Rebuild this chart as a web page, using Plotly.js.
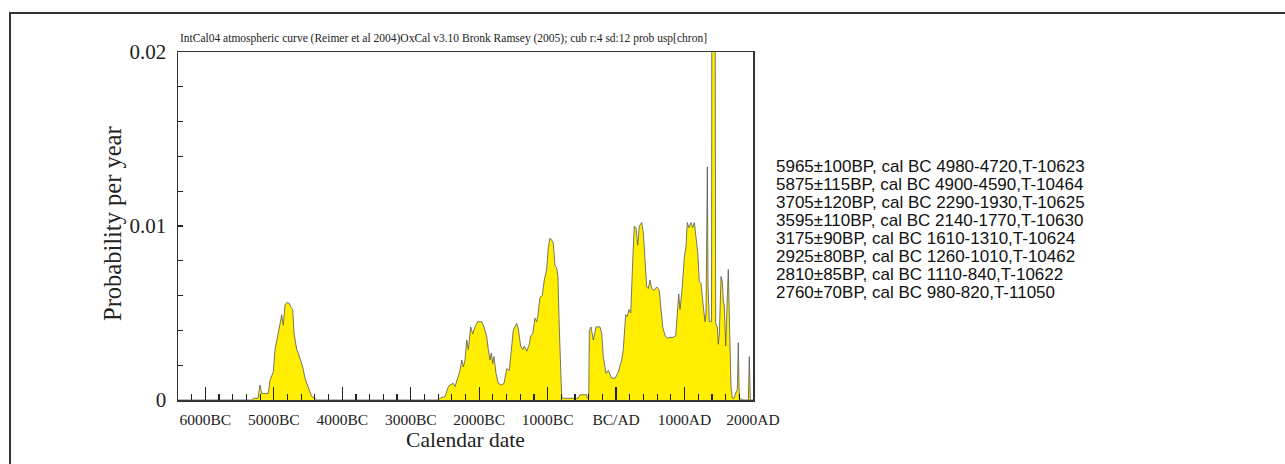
<!DOCTYPE html>
<html>
<head>
<meta charset="utf-8">
<script src="https://cdn.plot.ly/plotly-3.0.1.min.js"></script>
<style>html,body{margin:0;padding:0;background:#fff;}#chart{width:1285px;height:464px;}</style>
</head>
<body>
<div id="chart"></div>
<script>
// Calendar years (negative = BC) and summed probability per year
const years = [
  -6400, -5310,
  -5300, -5231, -5202, -5177, -5081, -5056, -5008, -4983, -4935, -4910, -4885, -4862,
  -4837, -4812, -4774, -4754, -4724, -4705, -4666, -4643, -4618, -4578, -4545, -4496,
  -4472, -4447, -4399, -4374,
  -2600,
  -2572, -2499, -2451, -2426, -2378, -2353, -2320, -2280, -2255, -2232, -2207, -2182,
  -2159, -2124, -2095, -2061, -2022, -1963, -1930, -1890, -1867, -1842, -1823, -1803,
  -1784, -1754, -1721, -1671, -1637, -1598, -1560, -1535, -1502, -1477, -1452, -1429,
  -1394, -1364, -1341, -1306, -1268, -1247, -1218, -1185, -1160, -1145, -1112, -1078,
  -1049, -1014, -990, -966, -941, -917, -892, -868, -850, -830, -795, -771,
  -556, -527, -429, -421, -400,
  -391, -367, -333, -293, -235, -210, -187, -147, -114, -64, -16, 32, 82, 105, 140,
  164, 189, 214, 243, 266, 291, 316, 339, 374, 398, 422, 447, 471, 495, 520, 554,
  593, 631, 652, 681, 715, 748, 788, 836, 871, 894, 915, 934, 967, 997, 1021, 1040,
  1065, 1094, 1119, 1143, 1167, 1192, 1216, 1240, 1265, 1299, 1314, 1333, 1343, 1362,
  1382, 1394, 1400, 1444, 1455, 1479, 1493, 1508, 1533, 1552, 1566, 1581, 1601, 1620,
  1639, 1660, 1679, 1698, 1723, 1747, 1771, 1785, 1800, 1858, 1932, 1946, 1961, 2000
];
const prob = [
  0, 0,
  0.0001, 0.0001, 0.00086, 0.00038, 0.00038, 0.00115, 0.0016, 0.0029, 0.00385, 0.0044, 0.0049, 0.0043,
  0.00546, 0.0056, 0.00555, 0.00536, 0.0052, 0.00385, 0.0029, 0.0027, 0.0024, 0.0019, 0.00126, 0.00077,
  0.00048, 0.0002, 0.0001, 0,
  0,
  0.0001, 0.0002, 0.00077, 0.00086, 0.00096, 0.00077, 0.00115, 0.0017, 0.0023, 0.0019, 0.0023, 0.00345,
  0.0029, 0.0042, 0.0038, 0.0042, 0.0045, 0.0045, 0.0042, 0.00364, 0.0029, 0.0023, 0.0027, 0.0021,
  0.0025, 0.00153, 0.00096, 0.00086, 0.00096, 0.0018, 0.0017, 0.0029, 0.004, 0.0042, 0.0044, 0.0041,
  0.0031, 0.0029, 0.0031, 0.0028, 0.0032, 0.0037, 0.0038, 0.0047, 0.0045, 0.0048, 0.0059, 0.006,
  0.0069, 0.0075, 0.0088, 0.0093, 0.0092, 0.009, 0.0077, 0.0076, 0.0071, 0.0042, 0.0002, 0.0001,
  0.0001, 0.0003, 0.0003, 0.0001, 0.0001,
  0.004, 0.0042, 0.00345, 0.0042, 0.0042, 0.0038, 0.0025, 0.00153, 0.0017, 0.00125, 0.00125, 0.0016, 0.0023, 0.0029, 0.0049,
  0.0048, 0.0052, 0.005, 0.008, 0.0100, 0.0099, 0.0089, 0.0100, 0.0102, 0.0096, 0.008, 0.0065, 0.0064, 0.0069, 0.0064, 0.0063,
  0.0065, 0.0063, 0.0054, 0.0042, 0.0037, 0.00355, 0.0036, 0.0036, 0.0037, 0.005, 0.0061, 0.0052, 0.0065, 0.0082, 0.0088, 0.0102,
  0.0099, 0.0102, 0.0099, 0.0102, 0.0092, 0.0085, 0.0068, 0.0067, 0.0057, 0.0045, 0.005, 0.0134, 0.0066, 0.0045,
  0.0045, 0.0045, 0.03, 0.03, 0.0044, 0.0042, 0.0032, 0.0038, 0.0071, 0.0068, 0.0057, 0.0054, 0.0031, 0.005,
  0.0075, 0.0038, 0.00077, 0.0001, 0.0001, 0.0004, 0.0006, 0.0033, 0.0001, 0, 0, 0.0025, 0, 0
];
const xTickVals = [-6000, -5000, -4000, -3000, -2000, -1000, 0, 1000, 2000];
const xTickText = ['6000BC', '5000BC', '4000BC', '3000BC', '2000BC', '1000BC', 'BC/AD', '1000AD', '2000AD'];
const yTickVals = [0, 0.01, 0.02];
const yTickText = ['0', '0.01', '0.02'];
const sampleLabels = [
  '5965±100BP, cal BC 4980-4720,T-10623',
  '5875±115BP, cal BC 4900-4590,T-10464',
  '3705±120BP, cal BC 2290-1930,T-10625',
  '3595±110BP, cal BC 2140-1770,T-10630',
  '3175±90BP, cal BC 1610-1310,T-10624',
  '2925±80BP, cal BC 1260-1010,T-10462',
  '2810±85BP, cal BC 1110-840,T-10622',
  '2760±70BP, cal BC 980-820,T-11050'
];
const chartTitle = 'IntCal04 atmospheric curve (Reimer et al 2004)OxCal v3.10 Bronk Ramsey (2005); cub r:4 sd:12 prob usp[chron]';
const yTitle = 'Probability per year';
const xTitle = 'Calendar date';

// layout geometry (pixels)
const W = 1285, H = 464;
const L = 178, R = 753, T = 52, B = 400;
const px2x = p => (p - L) / (R - L);
const px2y = p => (B - p) / (B - T);

const serif = 'Liberation Serif, Times New Roman, serif';
const sans = 'Liberation Sans, Arial, sans-serif';

const annotations = [{
  text: chartTitle, xref: 'paper', yref: 'paper', x: 0, y: px2y(38),
  xanchor: 'left', yanchor: 'middle', showarrow: false,
  font: {family: serif, size: 11.5, color: '#222'}
}, {
  text: yTitle, xref: 'paper', yref: 'paper', x: px2x(113), y: px2y(224),
  xanchor: 'center', yanchor: 'middle', textangle: -90, showarrow: false,
  font: {family: serif, size: 24.5, color: '#222'}
}];
sampleLabels.forEach((t, i) => {
  annotations.push({
    text: t, xref: 'paper', yref: 'paper', x: px2x(774), y: px2y(166 + i * 18),
    xanchor: 'left', yanchor: 'middle', showarrow: false,
    font: {family: sans, size: 17, color: '#111'}
  });
});

const trace = {
  x: years, y: prob, type: 'scatter', mode: 'lines',
  fill: 'tozeroy', fillcolor: '#FFEE00',
  line: {color: '#555555', width: 0.8},
  hoverinfo: 'x+y'
};

const layout = {
  width: W, height: H,
  margin: {l: L, r: W - R, t: T, b: H - B},
  paper_bgcolor: '#fff', plot_bgcolor: '#fff',
  showlegend: false,
  xaxis: {
    range: [-6400, 2000], tickmode: 'array', tickvals: xTickVals, ticktext: xTickText,
    ticks: 'inside', ticklen: 13, tickwidth: 1.3, tickcolor: '#222',
    minor: {tickmode: 'linear', tick0: -6000, dtick: 200, ticks: 'inside', ticklen: 6, tickwidth: 1.2, tickcolor: '#222'},
    showline: true, mirror: true, linecolor: '#333', linewidth: 1.5,
    showgrid: false, zeroline: false, ticklabelstandoff: 5,
    tickfont: {family: serif, size: 15.5, color: '#222'},
    title: {text: xTitle, font: {family: serif, size: 21.5, color: '#222'}, standoff: 2}
  },
  yaxis: {
    range: [0, 0.02], tickmode: 'array', tickvals: yTickVals, ticktext: yTickText,
    ticks: 'inside', ticklen: 5, tickwidth: 1.3, tickcolor: '#222',
    minor: {tickmode: 'linear', tick0: 0, dtick: 0.002, ticks: 'inside', ticklen: 5, tickwidth: 1.2, tickcolor: '#222'},
    showline: true, mirror: true, linecolor: '#333', linewidth: 1.5,
    showgrid: false, zeroline: false, ticklabelstandoff: 6,
    tickfont: {family: serif, size: 21, color: '#222'}
  },
  annotations: annotations,
  shapes: [{
    type: 'rect', xref: 'paper', yref: 'paper', layer: 'below',
    x0: px2x(10), x1: px2x(1300), y0: px2y(480), y1: px2y(13),
    line: {color: '#333', width: 2}, fillcolor: 'rgba(0,0,0,0)'
  }]
};

Plotly.newPlot('chart', [trace], layout, {displayModeBar: false, staticPlot: true});
</script>
</body>
</html>
